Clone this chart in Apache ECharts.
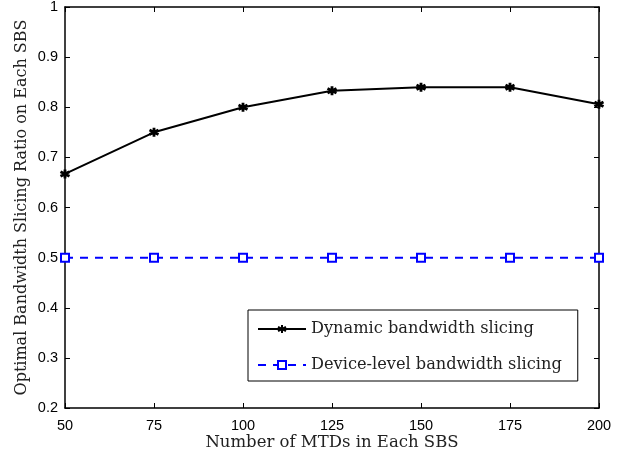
<!DOCTYPE html>
<html>
<head>
<meta charset="utf-8">
<script src="https://cdn.jsdelivr.net/npm/echarts@6/dist/echarts.min.js"></script>
<style>
html,body{margin:0;padding:0;background:#fff;}
#chart{width:636px;height:454px;}
</style>
</head>
<body>
<div id="chart"></div>
<script>
const categories = [50, 75, 100, 125, 150, 175, 200];
const dynamicValues = [0.667, 0.75, 0.8, 0.833, 0.84, 0.84, 0.806];
const deviceValues = [0.5, 0.5, 0.5, 0.5, 0.5, 0.5, 0.5];
const seriesNames = ['Dynamic bandwidth slicing', 'Device-level bandwidth slicing'];

const asterisk = 'path://M0,-10L0,10M-8.66,-5L8.66,5M-8.66,5L8.66,-5';
const sans = 'Liberation Sans';
const serif = 'DejaVu Serif';

const chart = echarts.init(document.getElementById('chart'));
const tickStyle = {show: true, inside: true, length: 5, lineStyle: {color: '#000', width: 1}};
chart.setOption({
  animation: false,
  backgroundColor: '#fff',
  grid: {left: 65, right: 37, top: 7, bottom: 46, show: false, containLabel: false, outerBoundsMode: 'none'},
  legend: {
    orient: 'vertical',
    left: 248, top: 310,
    itemWidth: 48, itemHeight: 10,
    itemGap: 20,
    padding: [11, 16, 8, 9],
    borderColor: '#000', borderWidth: 1,
    backgroundColor: '#fff',
    textStyle: {fontFamily: serif, fontSize: 16.2, color: '#222'},
    data: seriesNames
  },
  xAxis: [{
    type: 'value', min: 50, max: 200, interval: 25,
    name: 'Number of MTDs in Each SBS', nameLocation: 'middle', nameGap: 26,
    nameMoveOverlap: false,
    nameTextStyle: {fontFamily: serif, fontSize: 16.5, color: '#222'},
    axisLine: {show: true, lineStyle: {color: '#000', width: 1.5}},
    axisTick: tickStyle,
    axisLabel: {fontFamily: sans, fontSize: 14.5, color: '#000', margin: 10},
    splitLine: {show: false}
  }, {
    type: 'value', min: 50, max: 200, interval: 25, position: 'top',
    axisLine: {show: true, lineStyle: {color: '#000', width: 1.5}},
    axisTick: tickStyle, axisLabel: {show: false}, splitLine: {show: false}
  }],
  yAxis: [{
    type: 'value', min: 0.2, max: 1, interval: 0.1,
    name: 'Optimal Bandwidth Slicing Ratio on Each SBS', nameLocation: 'middle', nameGap: 35,
    nameMoveOverlap: false,
    nameTextStyle: {fontFamily: serif, fontSize: 16, color: '#222'},
    axisLine: {show: true, lineStyle: {color: '#000', width: 1.5}},
    axisTick: tickStyle,
    axisLabel: {fontFamily: sans, fontSize: 14.5, color: '#000', margin: 7,
      formatter: v => (Math.round(v * 10) / 10).toString()},
    splitLine: {show: false}
  }, {
    type: 'value', min: 0.2, max: 1, interval: 0.1, position: 'right',
    axisLine: {show: true, lineStyle: {color: '#000', width: 1.5}},
    axisTick: tickStyle, axisLabel: {show: false}, splitLine: {show: false}
  }],
  series: [{
    name: seriesNames[0], type: 'line',
    data: categories.map((c, i) => [c, dynamicValues[i]]),
    symbol: asterisk, symbolSize: 9,
    lineStyle: {color: '#000', width: 2},
    itemStyle: {color: '#000', borderColor: '#000', borderWidth: 2.8},
    z: 3
  }, {
    name: seriesNames[1], type: 'line',
    data: categories.map((c, i) => [c, deviceValues[i]]),
    symbol: 'rect', symbolSize: 8,
    lineStyle: {color: '#0000ff', width: 2, type: [8, 7]},
    itemStyle: {color: '#fff', borderColor: '#0000ff', borderWidth: 2},
    z: 2
  }]
});
</script>
</body>
</html>
